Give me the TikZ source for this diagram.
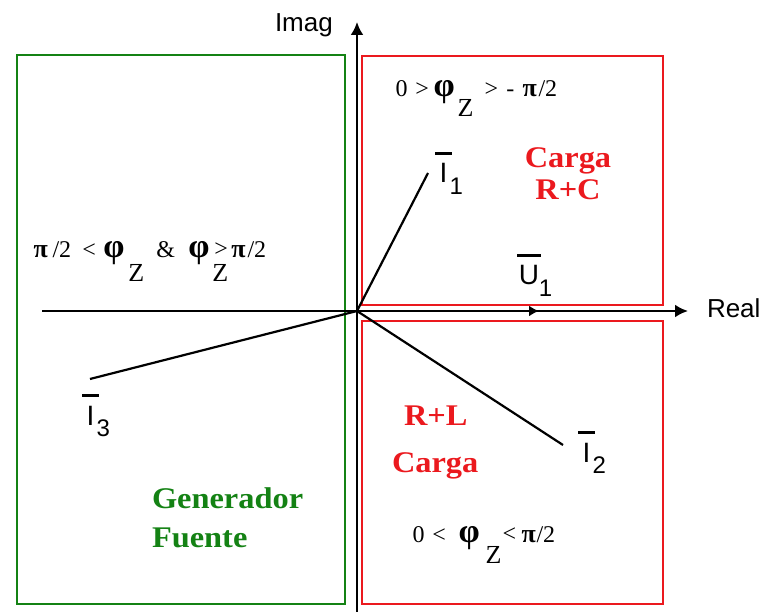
\documentclass[tikz,border=0pt]{standalone}
\usepackage{fontspec}
\setmainfont{Liberation Serif}
\newfontfamily\arialfont{Liberation Sans}
\newfontfamily\widebf[FakeStretch=1.08]{Liberation Serif Bold}
\usetikzlibrary{arrows.meta}
\definecolor{boxgreen}{RGB}{20,130,20}
\definecolor{boxred}{RGB}{235,25,30}
\newcommand\fs[1]{\fontsize{#1}{#1}\selectfont}
\newcommand\barred[2]{\hbox to #2{\hss#1\hss}\kern-#2\rule[1.0em]{#2}{0.1em}}
\newcommand\phasor[3]{{\arialfont\fs{28}\barred{#1}{#3}\kern-0.08em\raisebox{-0.42em}{\fs{24}#2}}}
\newcommand\phib{{\bfseries\fs{34}φ}}
\newcommand\pib{{\bfseries\fs{26}π}}
\newcommand\zsub[1]{\raisebox{-#1pt}{\fs{26}Z}}
\newcommand\pc[2]{\rlap{\kern#1pt#2}}
\begin{document}
\begin{tikzpicture}[x=1pt,y=-1pt,
  every node/.style={inner sep=0pt, outer sep=0pt},
  region/.style={line width=2.5pt},
  axis/.style={line width=2.4pt, -{Latex[length=13pt,width=13pt]}},
  vec/.style={line width=2.2pt},
  lbl/.style={anchor=base west, font=\arialfont\fs{26}},
  formula/.style={anchor=base west, font=\fs{24}},
  redtxt/.style={text=boxred, font=\widebf\fs{30}},
  greentxt/.style={text=boxgreen, font=\widebf\fs{30}, anchor=base west}]
\useasboundingbox (0,0) rectangle (766,612);
% regions
\draw[region, boxgreen] (17,55) rectangle (345,604);
\draw[region, boxred] (362,56) rectangle (663,305);
\draw[region, boxred] (362,321) rectangle (663,604);
% axes
\coordinate (O) at (357,311);
\coordinate (xl) at (42,311);
\coordinate (xr) at (688,311);
\coordinate (yb) at (357,612);
\coordinate (yt) at (357,22);
\draw[axis] (xl) -- (xr);
\draw[axis] (yb) -- (yt);
\node[lbl] (real) at (707,318) {Real};
\node[lbl] (imag) at (275,32) {Imag};
% phasors
\coordinate (i1) at (428,173);
\coordinate (i2) at (563,445);
\coordinate (i3) at (90,379);
\coordinate (u1) at (539,311);
\draw[vec] (O) -- (i1);
\draw[vec] (O) -- (i2);
\draw[vec] (O) -- (i3);
\draw[line width=2.2pt, -{Latex[length=10pt,width=11pt]}] (O) -- (u1);
\node[anchor=base west] (I1) at (435,183) {\phasor{I}{1}{0.6em}};
\node[anchor=base west] (I2) at (578,462) {\phasor{I}{2}{0.6em}};
\node[anchor=base west] (I3) at (82,425) {\phasor{I}{3}{0.6em}};
\node[anchor=base west] (U1) at (517,285) {\phasor{U}{1}{0.86em}};
% formulas
\node[formula] (f1) at (395,97) {\pc{0}{0}\pc{20}{>}\pc{38}{\phib}\pc{62}{\zsub{20}}\pc{89}{>}\pc{111}{-}\pc{127}{\pib}\pc{143}{/2}};
\node[formula] (f2) at (33,258) {\pc{0}{\pib}\pc{19}{/2}\pc{49}{<}\pc{70}{\phib}\pc{95}{\zsub{24}}\pc{123}{\&}\pc{155}{\phib}\pc{179}{\zsub{24}}\pc{181}{\raisebox{1pt}{>}}\pc{198}{\pib}\pc{214}{/2}};
\node[formula] (f3) at (412,542) {\pc{0}{0}\pc{20}{<}\pc{46}{\phib}\pc{73}{\zsub{21}}\pc{90}{\raisebox{1pt}{<}}\pc{109}{\pib}\pc{124}{/2}};
% region labels
\node[redtxt, anchor=base] (c1) at (568,168) {Carga};
\node[redtxt, anchor=base] (rc) at (568,200) {R+C};
\node[redtxt, anchor=base west] (rl) at (404,425) {R+L};
\node[redtxt, anchor=base west] (c2) at (392,472) {Carga};
\node[greentxt] (gen) at (152,508) {Generador};
\node[greentxt] (fue) at (152,547) {Fuente};
\end{tikzpicture}
\end{document}
